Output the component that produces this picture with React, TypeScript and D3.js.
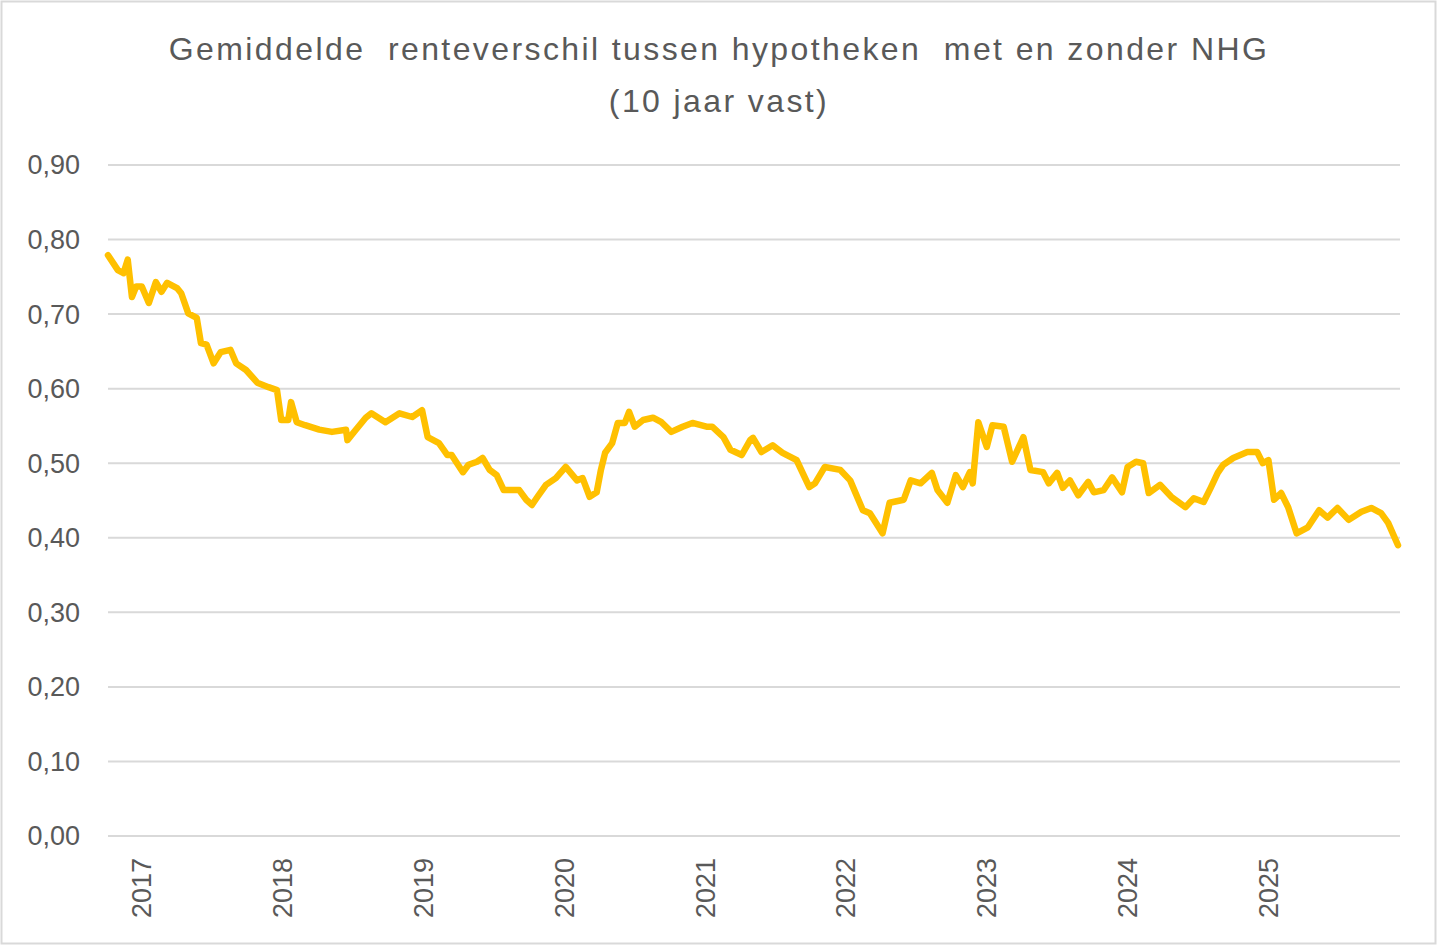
import { useEffect, useRef } from 'react';
import * as d3 from 'd3';

const titleLines = ['Gemiddelde  renteverschil tussen hypotheken  met en zonder NHG', '(10 jaar vast)'];

const yTicks = [0, 0.1, 0.2, 0.3, 0.4, 0.5, 0.6, 0.7, 0.8, 0.9];
const yearTicks = [2017, 2018, 2019, 2020, 2021, 2022, 2023, 2024, 2025];

// decimal years
const dates = [
  2016.76, 2016.83, 2016.87, 2016.9, 2016.93, 2016.96, 2017.0, 2017.05, 2017.1, 2017.14,
  2017.18, 2017.25, 2017.28, 2017.33, 2017.39, 2017.42, 2017.46, 2017.51, 2017.56, 2017.63,
  2017.67, 2017.74, 2017.82, 2017.9, 2017.96, 2017.99, 2018.04, 2018.06, 2018.1, 2018.16,
  2018.26, 2018.35, 2018.45, 2018.46, 2018.52, 2018.59, 2018.63, 2018.73, 2018.83, 2018.92,
  2018.99, 2019.03, 2019.11, 2019.17, 2019.2, 2019.28, 2019.32, 2019.38, 2019.42, 2019.47,
  2019.52, 2019.57, 2019.68, 2019.73, 2019.77, 2019.81, 2019.87, 2019.94, 2020.01, 2020.09,
  2020.13, 2020.18, 2020.23, 2020.26, 2020.29, 2020.34, 2020.38, 2020.43, 2020.46, 2020.5,
  2020.56, 2020.63, 2020.69, 2020.76, 2020.84, 2020.91, 2021.01, 2021.05, 2021.13, 2021.18,
  2021.26, 2021.32, 2021.34, 2021.4, 2021.48, 2021.55, 2021.65, 2021.74, 2021.78, 2021.85,
  2021.96, 2022.03, 2022.12, 2022.17, 2022.26, 2022.31, 2022.41, 2022.46, 2022.53, 2022.61,
  2022.65, 2022.72, 2022.78, 2022.83, 2022.88, 2022.9, 2022.94, 2023.0, 2023.04, 2023.12,
  2023.18, 2023.26, 2023.31, 2023.4, 2023.44, 2023.5, 2023.54, 2023.59, 2023.65, 2023.72,
  2023.76, 2023.83, 2023.89, 2023.96, 2024.0, 2024.06, 2024.11, 2024.15, 2024.23, 2024.31,
  2024.41, 2024.47, 2024.54, 2024.59, 2024.64, 2024.68, 2024.75, 2024.85, 2024.92, 2024.96,
  2025.0, 2025.04, 2025.09, 2025.14, 2025.2, 2025.28, 2025.36, 2025.42, 2025.49, 2025.57,
  2025.66, 2025.73, 2025.8, 2025.85, 2025.92,
];

const spread = [
  0.779, 0.759, 0.755, 0.773, 0.723, 0.737, 0.737, 0.715, 0.743, 0.73,
  0.742, 0.735, 0.728, 0.701, 0.695, 0.661, 0.659, 0.634, 0.649, 0.652,
  0.634, 0.625, 0.608, 0.602, 0.598, 0.558, 0.558, 0.582, 0.555, 0.551,
  0.545, 0.542, 0.545, 0.531, 0.545, 0.561, 0.567, 0.555, 0.567, 0.562,
  0.571, 0.535, 0.527, 0.511, 0.511, 0.488, 0.498, 0.502, 0.507, 0.491,
  0.484, 0.464, 0.464, 0.451, 0.444, 0.455, 0.471, 0.48, 0.495, 0.477,
  0.48, 0.455, 0.461, 0.491, 0.514, 0.527, 0.554, 0.554, 0.569, 0.549,
  0.558, 0.561, 0.555, 0.542, 0.549, 0.554, 0.549, 0.549, 0.535, 0.518,
  0.511, 0.531, 0.534, 0.515, 0.524, 0.514, 0.504, 0.468, 0.473, 0.495,
  0.491, 0.477, 0.437, 0.433, 0.406, 0.447, 0.451, 0.477, 0.473, 0.487,
  0.464, 0.447, 0.484, 0.468, 0.488, 0.473, 0.555, 0.522, 0.551, 0.549,
  0.502, 0.535, 0.491, 0.488, 0.473, 0.487, 0.467, 0.477, 0.457, 0.475,
  0.461, 0.464, 0.481, 0.461, 0.495, 0.502, 0.5, 0.46, 0.471, 0.455,
  0.441, 0.453, 0.448, 0.467, 0.487, 0.498, 0.507, 0.515, 0.515, 0.5,
  0.504, 0.451, 0.46, 0.441, 0.406, 0.414, 0.437, 0.427, 0.44, 0.424,
  0.435, 0.44, 0.433, 0.42, 0.39,
];

const width = 1440;
const height = 946;
const font = '"Liberation Sans", Arial, sans-serif';
const textColor = '#595959';

export default function App() {
  const svgRef = useRef<SVGSVGElement>(null);

  useEffect(() => {
    if (!svgRef.current) return;
    const svg = d3.select(svgRef.current);
    svg.selectAll('*').remove();

    const plot = { left: 108, right: 1400, top: 165, bottom: 836 };

    const x = d3
      .scaleLinear()
      .domain([dates[0], dates[dates.length - 1]])
      .range([plot.left, 1398]);
    const y = d3.scaleLinear().domain([0, 0.9]).range([plot.bottom, plot.top]);

    // background + border
    svg
      .append('rect')
      .attr('x', 1.5)
      .attr('y', 1.5)
      .attr('width', 1434)
      .attr('height', 942)
      .attr('fill', '#fff')
      .attr('stroke', '#d9d9d9')
      .attr('stroke-width', 2);

    // Title
    const title = svg
      .append('text')
      .attr('text-anchor', 'middle')
      .attr('xml:space', 'preserve')
      .style('font-family', font)
      .style('font-size', '32px')
      .style('letter-spacing', '2.4px')
      .style('fill', textColor);
    titleLines.forEach((line, i) => {
      title
        .append('tspan')
        .attr('x', 719)
        .attr('y', 60 + i * 52)
        .text(line);
    });

    // gridlines
    svg
      .append('g')
      .selectAll('line')
      .data(yTicks)
      .join('line')
      .attr('x1', plot.left)
      .attr('x2', plot.right)
      .attr('y1', (d) => y(d))
      .attr('y2', (d) => y(d))
      .attr('stroke', '#d9d9d9')
      .attr('stroke-width', 2);

    // y labels
    const fmt = d3.format('.2f');
    svg
      .append('g')
      .selectAll('text')
      .data(yTicks)
      .join('text')
      .attr('x', 80)
      .attr('y', (d) => y(d))
      .attr('dy', '0.35em')
      .attr('text-anchor', 'end')
      .style('font-family', font)
      .style('font-size', '27px')
      .style('fill', textColor)
      .text((d) => fmt(d).replace('.', ','));

    // x labels (rotated)
    svg
      .append('g')
      .selectAll('text')
      .data(yearTicks)
      .join('text')
      .attr('transform', (d) => `translate(${x(d)},858) rotate(-90)`)
      .attr('dy', '0.35em')
      .attr('text-anchor', 'end')
      .style('font-family', font)
      .style('font-size', '27px')
      .style('fill', textColor)
      .text((d) => String(d));

    // series line
    const line = d3
      .line<number>()
      .x((_, i) => x(dates[i]))
      .y((d) => y(d));

    svg
      .append('path')
      .datum(spread)
      .attr('d', line)
      .attr('fill', 'none')
      .attr('stroke', '#FFC000')
      .attr('stroke-width', 6.5)
      .attr('stroke-linejoin', 'round')
      .attr('stroke-linecap', 'round');
  }, []);

  return (
    <svg
      ref={svgRef}
      width={width}
      height={height}
      style={{ position: 'absolute', left: 0, top: 0, display: 'block' }}
    ></svg>
  );
}
